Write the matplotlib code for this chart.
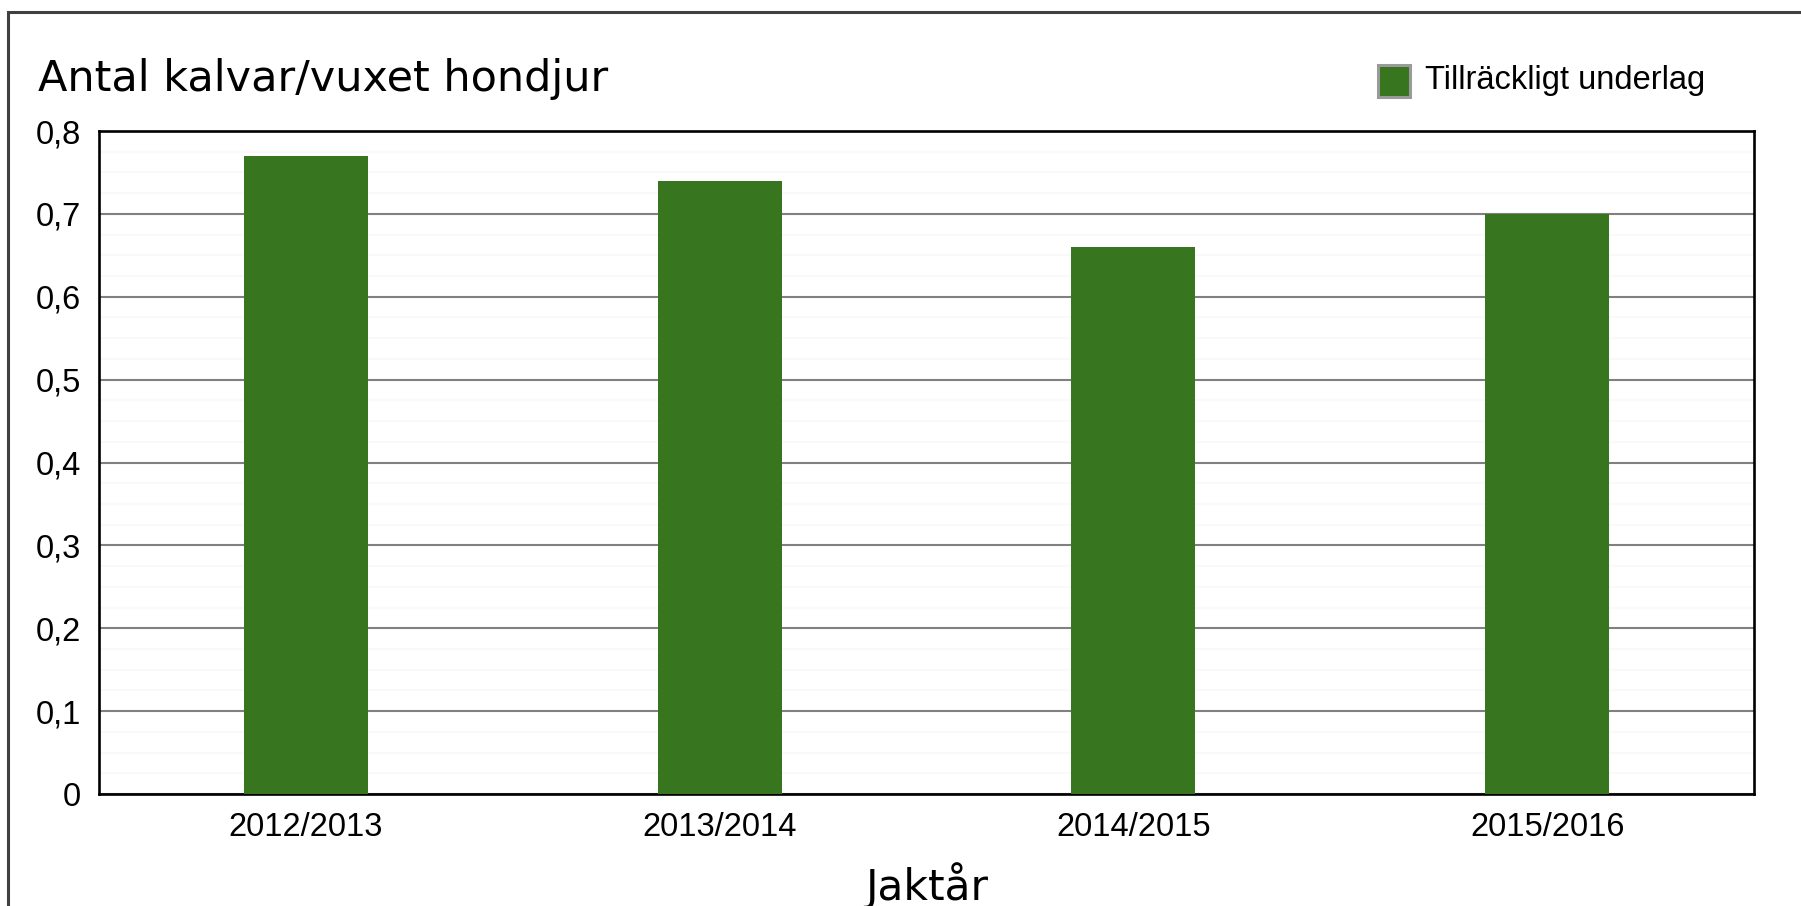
import matplotlib
matplotlib.use("Agg")
import matplotlib.pyplot as plt
from matplotlib.patches import Rectangle
from matplotlib.ticker import MultipleLocator, FuncFormatter

categories = ["2012/2013", "2013/2014", "2014/2015", "2015/2016"]
values = [0.77, 0.74, 0.66, 0.70]
title = "Antal kalvar/vuxet hondjur"
xlabel = "Jaktår"
legend_label = "Tillräckligt underlag"

W, H = 1801, 906
fig = plt.figure(figsize=(W / 100, H / 100), dpi=100)
fig.patch.set_facecolor("white")

def fx(px):
    return px / W

def fy(py):
    return 1 - py / H

ax = fig.add_axes([fx(99), fy(794), fx(1754) - fx(99), fy(131) - fy(794)])
green = "#38751f"
x = range(len(categories))
ax.bar(x, values, width=0.3, color=green, zorder=3)
ax.set_xlim(-0.5, len(categories) - 0.5)
ax.set_ylim(0, 0.8)
ax.set_xticks(list(x))
ax.set_xticklabels(categories)
ax.yaxis.set_major_locator(MultipleLocator(0.1))
ax.yaxis.set_minor_locator(MultipleLocator(0.025))
ax.yaxis.set_major_formatter(FuncFormatter(lambda v, p: ("%g" % round(v, 2)).replace(".", ",")))
ax.set_axisbelow(True)
ax.grid(axis="y", which="minor", color="#f9f9f9", linewidth=1.5, zorder=0)
ax.grid(axis="y", which="major", color="#808080", linewidth=1.5, zorder=1)
ax.grid(axis="x", visible=False)
ax.tick_params(axis="both", which="both", length=0, labelsize=23.5)
ax.tick_params(axis="y", pad=13)
ax.tick_params(axis="x", pad=13)
for lab in ax.get_xticklabels() + ax.get_yticklabels():
    lab.set_fontfamily(["Liberation Sans", "DejaVu Sans"])
for s in ax.spines.values():
    s.set_color("black")
    s.set_linewidth(1.9)

ax.set_xlabel(xlabel, fontsize=30.5, fontfamily=["DejaVu Sans"], labelpad=14)

fig.text(fx(38), fy(79), title, fontsize=31, fontfamily=["DejaVu Sans"],
         ha="left", va="center")

# legend
fig.patches.append(Rectangle((fx(1378), fy(97)), fx(32), fy(0) - fy(32),
                             transform=fig.transFigure, facecolor=green,
                             edgecolor="#9a9a9a", linewidth=2.2))
fig.text(fx(1425), fy(81), legend_label, fontsize=23.5,
         fontfamily=["Liberation Sans", "DejaVu Sans"],
         ha="left", va="center")

# outer frame (left and top visible)
fig.patches.append(Rectangle((fx(8), fy(H + 20)), fx(W + 20), fy(11.5) - fy(H + 20),
                             transform=fig.transFigure, facecolor="none",
                             edgecolor="#404040", linewidth=2.2))

fig.savefig("out.png", dpi=100, facecolor="white")
